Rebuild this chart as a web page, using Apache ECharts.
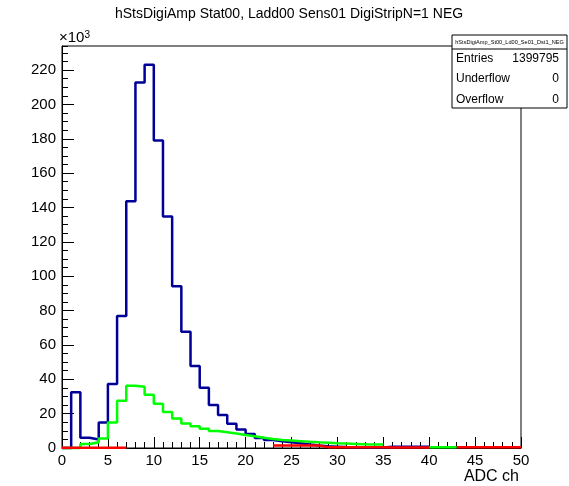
<!DOCTYPE html>
<html>
<head>
<meta charset="utf-8">
<script src="https://cdn.jsdelivr.net/npm/echarts@6/dist/echarts.min.js"></script>
<style>
  html, body { margin: 0; padding: 0; background: #fff; }
  #chart { width: 569px; height: 486px; }
</style>
</head>
<body>
<div id="chart"></div>
<script>
// ADC channel binning: 50 bins of width 1 starting at 0
const binLow = 0;
const binWidth = 1;

// Counts per ADC bin, in units of 10^3 (null = bin not drawn)
const ampAll = [
  0, 32.4, 6.0, 5.0, 14.9, 37.2, 76.9, 143.7, 212.8, 223.1,
  179.0, 134.8, 94.2, 67.6, 47.8, 35.0, 25.0, 19.2, 14.1, 10.8,
  8.1, 5.8, 4.6, 3.9, 3.3, 2.7, 2.0, 1.4, 1.0, 0.8,
  0.6, 0.5, 0.4, 0.3, 0.3, 0.8, 0.8, 0.8, 0.8, 0.8,
  null, null, null, null, null, null, null, null, null, null
];
const ampGreen = [
  0, 0, 2.3, 3.3, 5.6, 14.9, 27.5, 36.2, 35.6, 31.0,
  25.8, 20.9, 17.2, 14.3, 12.6, 11.2, 9.9, 9.2, 8.4, 7.6,
  6.8, 6.0, 5.2, 4.6, 4.3, 4.0, 3.6, 3.3, 3.1, 2.8,
  2.6, 2.4, 2.2, 2.1, 2.0, null, null, null, null, null,
  0.5, 0.5, 0.5, null, null, null, null, null, null, null
];
const ampRed = [
  0.2, 0.2, 0.2, 0.2, 0.2, 0.2, 0.2, null, null, null,
  null, null, null, null, null, null, null, null, null, null,
  null, null, null, 1.5, 1.5, 1.5, 1.5, 1.5, 0.5, 0.5,
  0.5, 0.5, 0.5, 0.5, 0.5, 0.3, 0.3, 0.3, 0.3, 0.3,
  null, null, null, 0.5, 0.5, 0.5, 0.5, 0.5, 0.5, 0.5
];

const xTickLabels = [0, 5, 10, 15, 20, 25, 30, 35, 40, 45, 50];
const yTickLabels = [0, 20, 40, 60, 80, 100, 120, 140, 160, 180, 200, 220];

const statsName = 'hStsDigiAmp_St00_Ld00_Se01_Dst1_NEG';
const statsRows = [['Entries', '1399795'], ['Underflow', '0'], ['Overflow', '0']];

// Histogram outline: horizontal segment per bin, breaks where a bin is absent
function histOutline(vals) {
  const pts = [];
  for (let i = 0; i < vals.length; i++) {
    const v = vals[i];
    const x0 = binLow + i * binWidth, x1 = x0 + binWidth;
    if (v == null) {
      if (pts.length && pts[pts.length - 1][1] !== null) pts.push([x0, null]);
      continue;
    }
    pts.push([x0, v], [x1, v]);
  }
  return pts;
}

const FONT = 'Liberation Sans, Arial, Helvetica, sans-serif';
const yMax = 234;

const chart = echarts.init(document.getElementById('chart'), null, { renderer: 'canvas' });

function histSeries(vals, color, z) {
  return {
    type: 'line',
    data: histOutline(vals),
    symbol: 'none',
    showSymbol: false,
    connectNulls: false,
    clip: false,
    z: z,
    lineStyle: { color: color, width: 2.5 },
    animation: false
  };
}

const statsLeft = 452, statsRight = 567, statsTop = 35, statsHead = 49, statsBottom = 108;

chart.setOption({
  backgroundColor: '#fff',
  animation: false,
  grid: {
    left: 62, right: 569 - 521, top: 46, bottom: 486 - 448,
    show: true, borderColor: '#000', borderWidth: 1, backgroundColor: 'transparent'
  },
  xAxis: {
    type: 'value', min: xTickLabels[0], max: xTickLabels[xTickLabels.length - 1], interval: 5,
    axisLine: { show: true, onZero: false, lineStyle: { color: '#000', width: 1 } },
    axisTick: { show: true, inside: true, length: 11, lineStyle: { color: '#000', width: 1 } },
    minorTick: { show: true, splitNumber: 5, length: 6, lineStyle: { color: '#000', width: 1 } },
    axisLabel: {
      show: true, color: '#000', fontFamily: FONT, fontSize: 15, margin: 5,
      formatter: v => (xTickLabels.includes(v) ? String(v) : '')
    },
    splitLine: { show: false }
  },
  yAxis: [
    {
      type: 'value', min: 0, max: yMax, interval: 20, position: 'left',
      axisLine: { show: true, onZero: false, lineStyle: { color: '#000', width: 1 } },
      axisTick: { show: true, inside: true, length: 12, lineStyle: { color: '#000', width: 1 } },
      axisLabel: {
        show: true, color: '#000', fontFamily: FONT, fontSize: 15, margin: 6,
        showMaxLabel: false,
        formatter: v => (yTickLabels.includes(v) ? String(v) : '')
      },
      splitLine: { show: false }
    },
    {
      type: 'value', min: 0, max: yMax, interval: 5, position: 'left',
      axisLine: { show: false },
      axisTick: { show: true, inside: true, length: 6, lineStyle: { color: '#000', width: 1 } },
      axisLabel: { show: false },
      splitLine: { show: false }
    }
  ],
  series: [
    histSeries(ampAll, '#000099', 3),
    histSeries(ampGreen, '#00ff00', 4),
    histSeries(ampRed, '#ff0000', 5)
  ],
  graphic: [
    {
      type: 'text', x: 289, y: 7, z: 10,
      style: {
        text: 'hStsDigiAmp Stat00, Ladd00 Sens01 DigiStripN=1 NEG',
        font: '14px ' + FONT, fill: '#000', align: 'center'
      }
    },
    {
      type: 'text', x: 59, y: 30, z: 10,
      style: {
        text: '×10{s|3}',
        font: '15px ' + FONT, fill: '#000',
        rich: { s: { fontSize: 10, fontFamily: FONT, verticalAlign: 'top', padding: [0, 0, 6, 0] } }
      }
    },
    {
      type: 'text', x: 519, y: 469, z: 10,
      style: { text: 'ADC ch', font: '16px ' + FONT, fill: '#000', align: 'right' }
    },
    // statistics box
    {
      type: 'rect', z: 20,
      shape: { x: statsLeft, y: statsTop, width: statsRight - statsLeft, height: statsBottom - statsTop },
      style: { fill: '#fff', stroke: '#000', lineWidth: 1 }
    },
    {
      type: 'line', z: 21,
      shape: { x1: statsLeft, y1: statsHead, x2: statsRight, y2: statsHead },
      style: { stroke: '#000', lineWidth: 1 }
    },
    {
      type: 'text', z: 22, x: (statsLeft + statsRight) / 2, y: (statsTop + statsHead) / 2,
      style: { text: statsName, font: '5.6px ' + FONT, fill: '#000', align: 'center', verticalAlign: 'middle' }
    }
  ].concat(statsRows.flatMap((row, i) => {
    const yc = 58.5 + i * 20.5;
    return [
      { type: 'text', z: 22, x: 456, y: yc,
        style: { text: row[0], font: '12px ' + FONT, fill: '#000', verticalAlign: 'middle' } },
      { type: 'text', z: 22, x: 559, y: yc,
        style: { text: row[1], font: '12px ' + FONT, fill: '#000', align: 'right', verticalAlign: 'middle' } }
    ];
  }))
});
</script>
</body>
</html>
